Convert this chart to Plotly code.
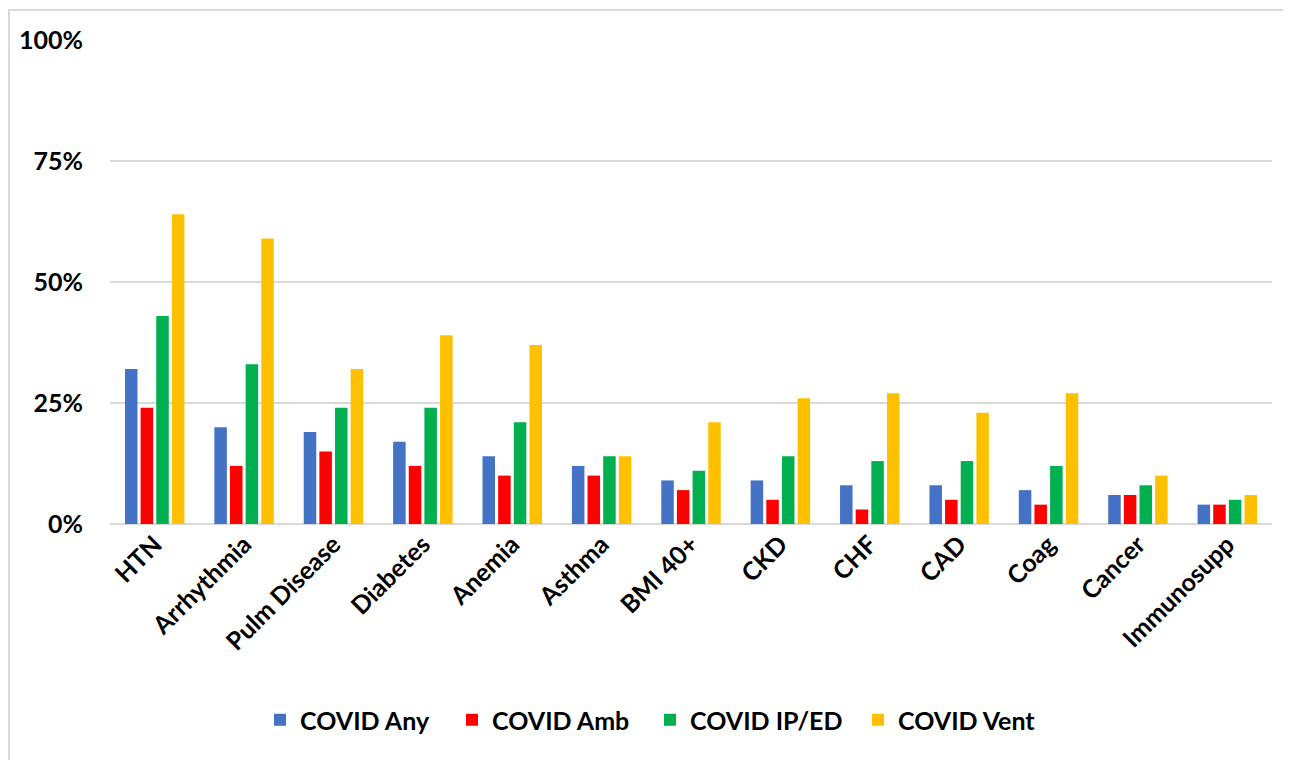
import plotly.graph_objects as go

categories = ["HTN", "Arrhythmia", "Pulm Disease", "Diabetes", "Anemia", "Asthma",
              "BMI 40+", "CKD", "CHF", "CAD", "Coag", "Cancer", "Immunosupp"]
covid_any = [32, 20, 19, 17, 14, 12, 9, 9, 8, 8, 7, 6, 4]
covid_amb = [24, 12, 15, 12, 10, 10, 7, 5, 3, 5, 4, 6, 4]
covid_iped = [43, 33, 24, 24, 21, 14, 11, 14, 13, 13, 12, 8, 5]
covid_vent = [64, 59, 32, 39, 37, 14, 21, 26, 27, 23, 27, 10, 6]
series_names = ["COVID Any", "COVID Amb", "COVID IP/ED", "COVID Vent"]
colors = ["#4472C4", "#FF0000", "#00B050", "#FFC000"]
y_ticks = [0, 25, 50, 75, 100]
y_tick_labels = ["0%", "25%", "50%", "75%", "100%"]

FONT = "Lato"
FS = 25
PLOT_W = 1162
legend_px = [275, 467, 665, 873]
legend_ids = ["legend", "legend2", "legend3", "legend4"]

fig = go.Figure()
for name, vals, c, lid in zip(series_names, [covid_any, covid_amb, covid_iped, covid_vent],
                              colors, legend_ids):
    fig.add_trace(go.Bar(name=name, x=categories, y=vals, marker_color=c,
                         marker_line_width=0, legend=lid))

legend_cfg = {}
for lid, px in zip(legend_ids, legend_px):
    legend_cfg[lid] = dict(x=(px - 110 - 15) / PLOT_W, xanchor="left",
                           y=-0.405, yanchor="middle", orientation="h",
                           bgcolor="rgba(0,0,0,0)",
                           font=dict(family=FONT, size=FS, color="black", weight="bold"),
                           itemwidth=30)

fig.update_layout(
    width=1283, height=752,
    paper_bgcolor="white", plot_bgcolor="white",
    margin=dict(l=102, r=19, t=32, b=236),
    barmode="group", bargap=0.3, bargroupgap=0.2,
    font=dict(family=FONT, size=FS, color="black"),
    showlegend=True,
    **legend_cfg,
)
fig.update_yaxes(range=[0, 100], tickvals=y_ticks, ticktext=y_tick_labels,
                 showgrid=True, gridcolor="#d9d9d9", gridwidth=2,
                 zeroline=True, zerolinecolor="#d9d9d9", zerolinewidth=2,
                 tickfont=dict(family=FONT, size=FS, color="black", weight="bold"),
                 ticklabelstandoff=26, fixedrange=True)
fig.update_xaxes(tickangle=-45, showgrid=False, showline=False,
                 tickfont=dict(family=FONT, size=FS, color="black", weight="bold"))
fig.add_shape(type="rect", xref="paper", yref="paper",
              x0=-101/PLOT_W, x1=1+18/PLOT_W, y0=-240/484, y1=1+30/484,
              line=dict(color="#d9d9d9", width=2), fillcolor="rgba(0,0,0,0)", layer="below")
fig.write_html("out.html")
